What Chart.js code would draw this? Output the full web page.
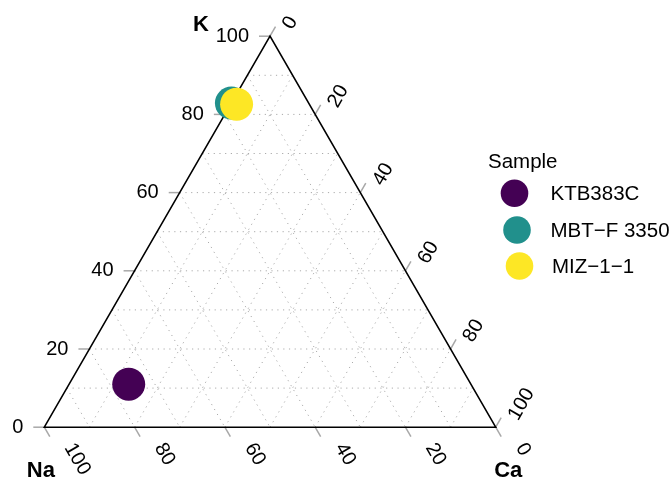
<!DOCTYPE html>
<html>
<head>
<meta charset="utf-8">
<script src="https://cdn.jsdelivr.net/npm/chart.js@4.4.1/dist/chart.umd.min.js"></script>
<style>
  html, body { margin: 0; padding: 0; background: #ffffff; }
  #wrap { width: 671px; height: 479px; }
</style>
</head>
<body>
<div id="wrap"><canvas id="tern" width="671" height="479"></canvas></div>
<script>
// Sample composition (percent of Na + K + Ca)
const samples = ['KTB383C', 'MBT\u2212F 3350', 'MIZ\u22121\u22121'];
const naValues = [75.8, 17.1, 16.1];
const kValues = [11.0, 82.9, 82.6];
const caValues = [13.2, 0.0, 1.3];
const sampleColors = ['#440154', '#21908C', '#FDE725'];

// Axis ticks and grid
const tickValues = [0, 20, 40, 60, 80, 100];
const gridValues = [10, 20, 30, 40, 50, 60, 70, 80, 90];
const vertexNames = { top: 'K', left: 'Na', right: 'Ca' };
const legendTitle = 'Sample';

const FONT = '"Liberation Sans", Arial, Helvetica, sans-serif';

// ternary -> cartesian: x runs along the Na-Ca base, y is the K share
function toXY(k, ca) { return { x: ca + k / 2, y: k }; }

const datasets = samples.map((name, i) => ({
  label: name,
  data: [toXY(kValues[i], caValues[i])],
  backgroundColor: sampleColors[i],
  borderWidth: 0,
  pointRadius: 16.5,
  pointHoverRadius: 16.5,
  order: samples.length - i
}));

const ternaryFrame = {
  id: 'ternaryFrame',
  beforeDatasetsDraw(chart) {
    const ctx = chart.ctx;
    const xs = chart.scales.x, ys = chart.scales.y;
    const P = (na, k, ca) => {
      const c = toXY(k, ca);
      return { x: xs.getPixelForValue(c.x), y: ys.getPixelForValue(c.y) };
    };
    const line = (a, b) => { ctx.beginPath(); ctx.moveTo(a.x, a.y); ctx.lineTo(b.x, b.y); ctx.stroke(); };

    ctx.save();
    // dotted grid
    ctx.strokeStyle = '#ababab';
    ctx.lineWidth = 1;
    ctx.setLineDash([1.2, 4.5]);
    gridValues.forEach(v => {
      line(P(100 - v, v, 0), P(0, v, 100 - v));       // constant K
      line(P(v, 100 - v, 0), P(v, 0, 100 - v));       // constant Na
      line(P(100 - v, 0, v), P(0, 100 - v, v));       // constant Ca
    });
    ctx.setLineDash([]);

    // ticks
    const TL = 11;
    ctx.strokeStyle = '#a8a8a8';
    ctx.lineWidth = 1.5;
    tickValues.forEach(v => {
      const l = P(100 - v, v, 0);
      line(l, { x: l.x - TL, y: l.y });
      const b = P(v, 0, 100 - v);
      line(b, { x: b.x + TL * 0.5, y: b.y + TL * 0.866 });
      const r = P(0, 100 - v, v);
      line(r, { x: r.x + TL * 0.5, y: r.y - TL * 0.866 });
    });

    // triangle
    const A = P(0, 100, 0), B = P(100, 0, 0), C = P(0, 0, 100);
    ctx.strokeStyle = '#000000';
    ctx.lineWidth = 1.6;
    ctx.beginPath();
    ctx.moveTo(A.x, A.y); ctx.lineTo(B.x, B.y); ctx.lineTo(C.x, C.y); ctx.closePath();
    ctx.stroke();

    // tick labels
    ctx.fillStyle = '#000000';
    ctx.font = '20px ' + FONT;
    tickValues.forEach(v => {
      const l = P(100 - v, v, 0);
      ctx.textAlign = 'right'; ctx.textBaseline = 'middle';
      ctx.fillText(String(v), l.x - 21, l.y);

      const b = P(v, 0, 100 - v);
      ctx.save();
      ctx.translate(b.x + 24.5, b.y + 17.5);
      ctx.rotate(Math.PI / 3);
      ctx.textAlign = 'left'; ctx.textBaseline = 'middle';
      ctx.fillText(String(v), 0, 0);
      ctx.restore();

      const r = P(0, 100 - v, v);
      ctx.save();
      ctx.translate(r.x + 17.5, r.y - 8.5);
      ctx.rotate(-Math.PI / 3);
      ctx.textAlign = 'left'; ctx.textBaseline = 'middle';
      ctx.fillText(String(v), 0, 0);
      ctx.restore();
    });

    // vertex titles
    ctx.font = 'bold 22px ' + FONT;
    ctx.textAlign = 'left'; ctx.textBaseline = 'alphabetic';
    ctx.fillText(vertexNames.top, A.x - 77, A.y - 5.5);
    ctx.fillText(vertexNames.left, B.x - 17.5, B.y + 50);
    ctx.fillText(vertexNames.right, C.x - 1.5, C.y + 50);
    ctx.restore();
  },
  afterDraw(chart) {
    // legend
    const ctx = chart.ctx;
    const keyX = [514.5, 517, 519.5];
    const rowY = [193.3, 230, 266];
    const textX = [550.5, 550.5, 552];
    ctx.save();
    ctx.fillStyle = '#000000';
    ctx.font = '20.5px ' + FONT;
    ctx.textAlign = 'left'; ctx.textBaseline = 'alphabetic';
    ctx.fillText(legendTitle, 488, 168);
    samples.forEach((name, i) => {
      ctx.fillStyle = sampleColors[i];
      ctx.beginPath();
      ctx.arc(keyX[i], rowY[i], 13.8, 0, Math.PI * 2);
      ctx.fill();
      ctx.fillStyle = '#000000';
      ctx.textBaseline = 'middle';
      ctx.fillText(name, textX[i], rowY[i] + 1);
    });
    ctx.restore();
  }
};

new Chart(document.getElementById('tern'), {
  type: 'scatter',
  data: { datasets },
  options: {
    responsive: false,
    devicePixelRatio: 1,
    animation: false,
    events: [],
    layout: { padding: { left: 44.3, right: 175.3, top: 36.2, bottom: 51.8 } },
    scales: {
      x: { type: 'linear', min: 0, max: 100, display: false },
      y: { type: 'linear', min: 0, max: 100, display: false }
    },
    plugins: {
      legend: { display: false },
      tooltip: { enabled: false }
    }
  },
  plugins: [ternaryFrame]
});
</script>
</body>
</html>
